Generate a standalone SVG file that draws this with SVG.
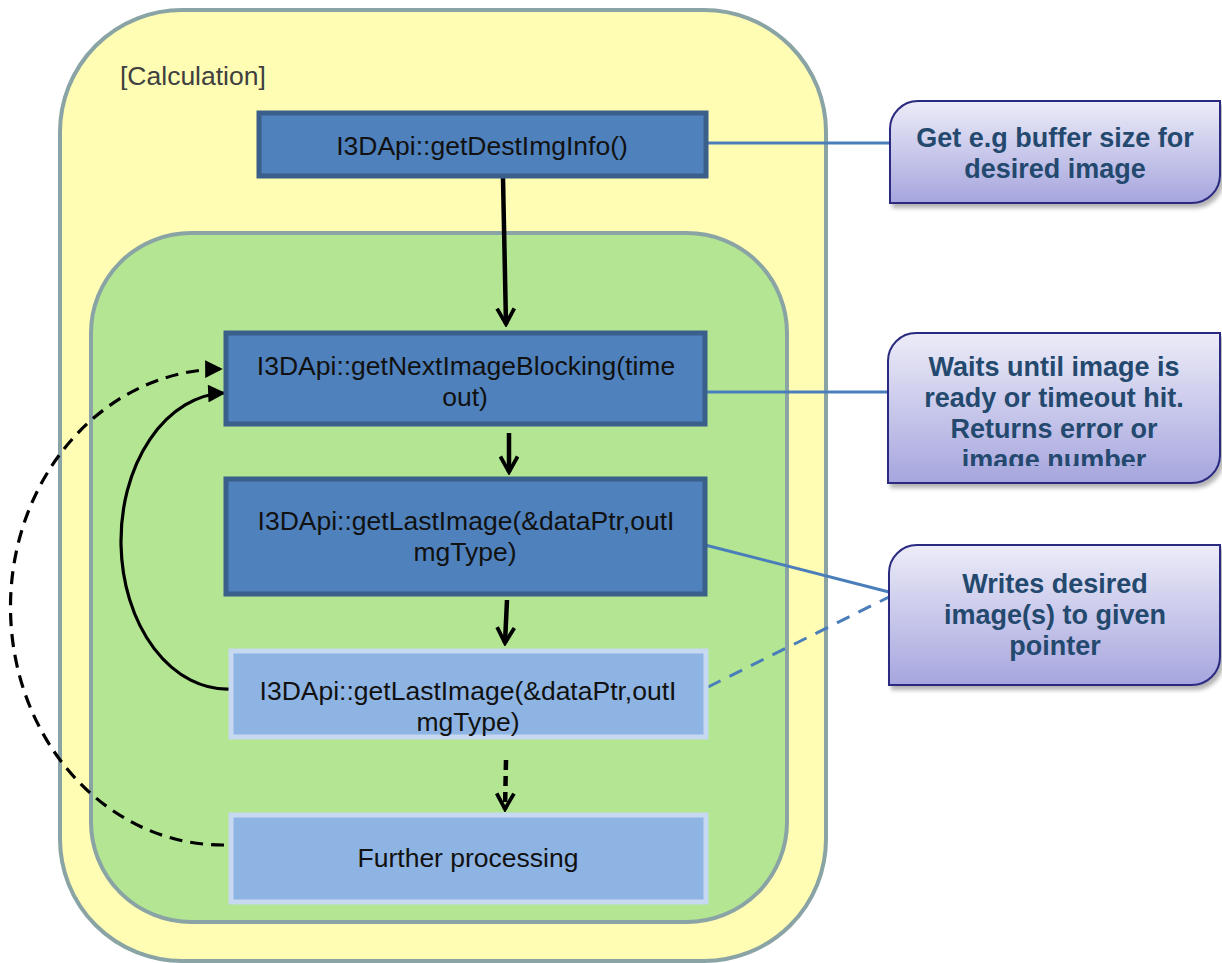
<svg xmlns="http://www.w3.org/2000/svg" width="1222" height="963" viewBox="0 0 1222 963">
  <defs>
    <style>
      .lane { stroke: #8aa4a5; stroke-width: 4; }
      .step { fill: #4f81bd; stroke: #3a5f8b; stroke-width: 5; }
      .step-lite { fill: #8eb4e3; stroke: #c6d9f1; stroke-width: 5; }
      .label { font-family: "Liberation Sans", Arial, sans-serif; font-size: 26.5px; fill: #111; text-anchor: middle; }
      .note { fill: url(#noteFill); stroke: #2b2b80; stroke-width: 2; filter: url(#shadow); }
      .note-text { font-family: "Liberation Sans", Arial, sans-serif; font-size: 27px; font-weight: bold; fill: #24496e; text-anchor: middle; }
      .flow { stroke: #000; stroke-width: 4.5; fill: none; }
      .loop { stroke: #000; stroke-width: 3.2; fill: none; }
      .link { stroke: #4a7ebb; stroke-width: 3; fill: none; }
    </style>
    <linearGradient id="noteFill" x1="0" y1="0" x2="0" y2="1">
      <stop offset="0" stop-color="#ececf8"/>
      <stop offset="1" stop-color="#a6a5de"/>
    </linearGradient>
    <filter id="shadow" x="-10%" y="-10%" width="125%" height="130%">
      <feDropShadow dx="3" dy="4" stdDeviation="2" flood-color="#000" flood-opacity="0.3"/>
    </filter>
    <marker id="openHead" viewBox="0 0 12 12" refX="10" refY="6" markerWidth="4.6" markerHeight="4.6" orient="auto" markerUnits="strokeWidth">
      <path d="M1,1 L10,6 L1,11" fill="none" stroke="#000" stroke-width="2.2"/>
    </marker>
    <marker id="solidHead" viewBox="0 0 10 10" refX="9" refY="5" markerWidth="6" markerHeight="5.5" orient="auto" markerUnits="strokeWidth">
      <path d="M0,0 L10,5 L0,10 Z" fill="#000"/>
    </marker>
    <clipPath id="clipNote2">
      <rect x="888" y="332" width="334" height="134"/>
    </clipPath>
  </defs>

  <!-- swimlanes -->
  <g id="calculation">
    <rect class="lane" x="60" y="10" width="766" height="951" rx="122" ry="122" fill="#fffdb3"/>
    <text class="label" x="120" y="85" style="text-anchor:start; fill:#404040">[Calculation]</text>
  </g>
  <g id="loop-area">
    <rect class="lane" x="91" y="233" width="696" height="689" rx="100" ry="100" fill="#b3e592"/>
  </g>

  <!-- connectors -->
  <g id="connectors">
    <path class="flow" d="M503,178 L506,324" marker-end="url(#openHead)"/>
    <path class="flow" d="M509,433 L509,472" marker-end="url(#openHead)"/>
    <path class="flow" d="M507,600 L505,643" marker-end="url(#openHead)"/>
    <path class="flow" d="M506,760 L505,809" stroke-dasharray="10,6" marker-end="url(#openHead)"/>
    <path class="loop" d="M230,689 A106,148 0 0 1 224,393" marker-end="url(#solidHead)"/>
    <path class="loop" d="M224,845 A212,238 0 0 1 221,369" stroke-dasharray="13,8" marker-end="url(#solidHead)"/>
    <path class="link" d="M707,143 L890,143"/>
    <path class="link" d="M706,392 L888,392"/>
    <path class="link" d="M705,545 L889,592"/>
    <path class="link" d="M708,687 L889,597" stroke-dasharray="14,10"/>
  </g>

  <!-- steps -->
  <g id="get-dest-img-info">
    <rect class="step" x="259" y="113" width="447" height="63"/>
    <text class="label" x="482" y="155">I3DApi::getDestImgInfo()</text>
  </g>
  <g id="get-next-image-blocking">
    <rect class="step" x="226" y="333" width="479" height="91"/>
    <text class="label" x="466" y="375">I3DApi::getNextImageBlocking(time</text>
    <text class="label" x="465" y="406">out)</text>
  </g>
  <g id="get-last-image">
    <rect class="step" x="226" y="479" width="479" height="115"/>
    <text class="label" x="466" y="530">I3DApi::getLastImage(&amp;dataPtr,outI</text>
    <text class="label" x="465" y="561">mgType)</text>
  </g>
  <g id="get-last-image-repeat">
    <rect class="step-lite" x="231" y="651" width="475" height="86"/>
    <text class="label" x="468" y="700">I3DApi::getLastImage(&amp;dataPtr,outI</text>
    <text class="label" x="468" y="731">mgType)</text>
  </g>
  <g id="further-processing">
    <rect class="step-lite" x="231" y="815" width="475" height="87"/>
    <text class="label" x="468" y="867">Further processing</text>
  </g>

  <!-- notes -->
  <g id="note-buffer-size">
    <path class="note" d="M918,101 H1220 V175 A28,28 0 0 1 1192,203 H890 V129 A28,28 0 0 1 918,101 Z"/>
    <text class="note-text" x="1055" y="147">Get e.g buffer size for</text>
    <text class="note-text" x="1055" y="178">desired image</text>
  </g>
  <g id="note-waits">
    <path class="note" d="M916,333 H1220 V455 A28,28 0 0 1 1192,483 H888 V361 A28,28 0 0 1 916,333 Z"/>
    <g clip-path="url(#clipNote2)">
      <text class="note-text" x="1054" y="376">Waits until image is</text>
      <text class="note-text" x="1054" y="407">ready or timeout hit.</text>
      <text class="note-text" x="1054" y="438">Returns error or</text>
      <text class="note-text" x="1054" y="469">image number</text>
    </g>
  </g>
  <g id="note-writes">
    <path class="note" d="M917,545 H1220 V657 A28,28 0 0 1 1192,685 H889 V573 A28,28 0 0 1 917,545 Z"/>
    <text class="note-text" x="1055" y="593">Writes desired</text>
    <text class="note-text" x="1055" y="624">image(s) to given</text>
    <text class="note-text" x="1055" y="655">pointer</text>
  </g>
</svg>
